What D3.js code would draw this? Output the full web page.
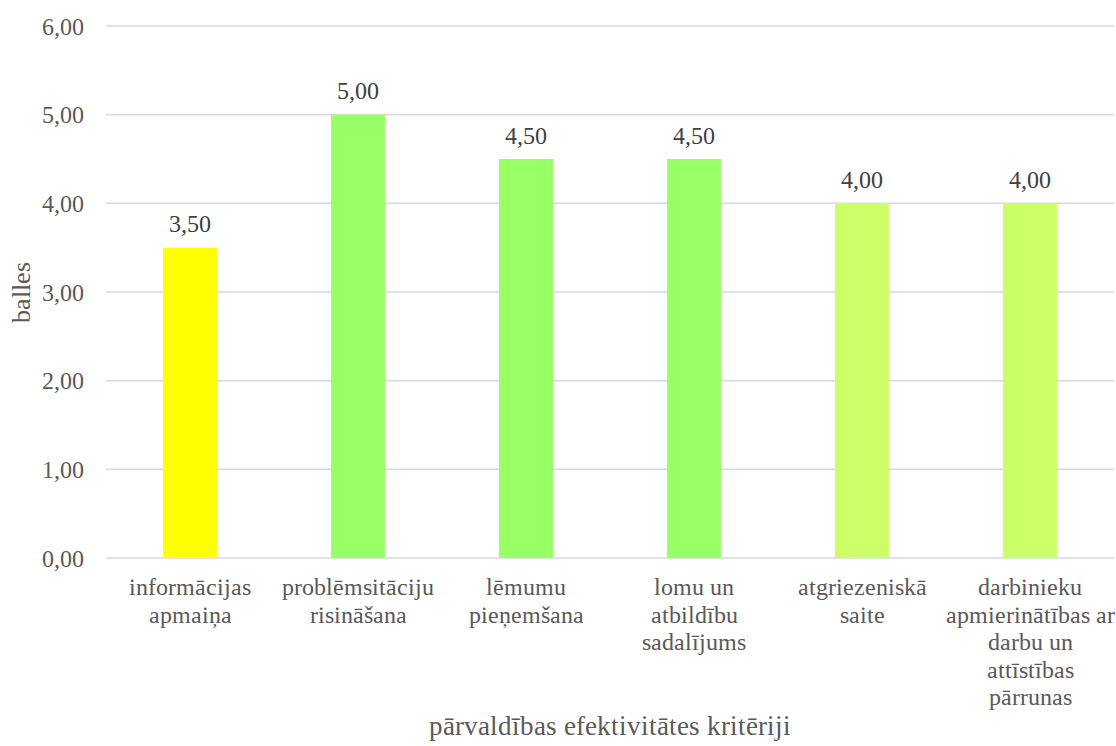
<!DOCTYPE html>
<html>
<head>
<meta charset="utf-8">
<script src="https://cdnjs.cloudflare.com/ajax/libs/d3/7.8.5/d3.min.js"></script>
<style>
  @font-face {
    font-family: "ChartSerif";
    src: local("Liberation Serif"), local("LiberationSerif"), local("LiberationSerif-Regular");
  }
  body { margin: 0; background: #fff; }
  svg text { font-family: "ChartSerif", "Liberation Serif", serif; }
</style>
</head>
<body>
<script>
// data
const categories = [
  ["informācijas", "apmaiņa"],
  ["problēmsitāciju", "risināšana"],
  ["lēmumu", "pieņemšana"],
  ["lomu un", "atbildību", "sadalījums"],
  ["atgriezeniskā", "saite"],
  ["darbinieku", "apmierinātības ar", "darbu un", "attīstības", "pārrunas"]
];
const values = [3.5, 5.0, 4.5, 4.5, 4.0, 4.0];
const barColors = ["#ffff00", "#99ff66", "#99ff66", "#99ff66", "#ccff66", "#ccff66"];
const yTicks = [0, 1, 2, 3, 4, 5, 6];
const xTitle = "pārvaldības efektivitātes kritēriji";
const yTitle = "balles";

const w = 1116, h = 746;
const padL = 106, padR = 1114, padT = 26, padB = 558;
const fontFam = "ChartSerif, 'Liberation Serif', serif";
const fmt = v => d3.format(".2f")(v).replace(".", ",");

const svg = d3.select("body").append("svg")
  .attr("width", w)
  .attr("height", h)
  .attr("font-family", fontFam);

const x = d3.scaleBand()
  .domain(d3.range(values.length))
  .range([padL, padR])
  .paddingInner(0.679)
  .paddingOuter(0.3395);

const y = d3.scaleLinear()
  .domain([0, 6])
  .range([padB, padT]);

// gridlines
svg.append("g")
  .selectAll("line")
  .data(yTicks)
  .enter()
  .append("line")
  .attr("x1", padL)
  .attr("x2", padR)
  .attr("y1", d => y(d))
  .attr("y2", d => y(d))
  .attr("stroke", "#d9d9d9")
  .attr("stroke-width", 1.5);

// y axis labels
const gy = svg.append("g")
  .attr("transform", "translate(" + padL + ",0)")
  .call(d3.axisLeft(y).tickValues(yTicks).tickFormat(fmt).tickSize(0).tickPadding(22))
  .attr("font-family", fontFam)
  .attr("font-size", 24);
gy.select(".domain").remove();
gy.selectAll("text")
  .attr("dy", 8)
  .attr("fill", "#595959")
  .style("font-family", fontFam, "important");

// bars
svg.selectAll("rect.bar")
  .data(values)
  .enter()
  .append("rect")
  .attr("class", "bar")
  .attr("x", (d, i) => x(i))
  .attr("y", d => y(d))
  .attr("width", x.bandwidth())
  .attr("height", d => y(0) - y(d))
  .attr("fill", (d, i) => barColors[i]);

// value labels
svg.selectAll("text.val")
  .data(values)
  .enter()
  .append("text")
  .attr("class", "val")
  .attr("x", (d, i) => x(i) + x.bandwidth() / 2)
  .attr("y", d => y(d) - 15.5)
  .attr("text-anchor", "middle")
  .attr("font-size", 24)
  .attr("fill", "#404040")
  .style("font-family", fontFam, "important")
  .text(fmt);

// category labels
const cat = svg.append("g")
  .selectAll("text")
  .data(categories)
  .enter()
  .append("text")
  .attr("text-anchor", "middle")
  .attr("font-size", 24)
  .attr("fill", "#595959")
  .style("font-family", fontFam, "important")
  .attr("transform", (d, i) => "translate(" + (x(i) + x.bandwidth() / 2) + "," + (padB + 37) + ")");
cat.selectAll("tspan")
  .data(d => d)
  .enter()
  .append("tspan")
  .attr("x", 0)
  .attr("y", (d, j) => j * 27.6)
  .text(d => d);

// axis titles
svg.append("text")
  .attr("x", (padL + padR) / 2)
  .attr("y", 735)
  .attr("text-anchor", "middle")
  .attr("font-size", 27)
  .attr("fill", "#595959")
  .style("font-family", fontFam, "important")
  .text(xTitle);

svg.append("text")
  .attr("transform", "translate(30," + ((padT + padB) / 2) + ") rotate(-90)")
  .attr("text-anchor", "middle")
  .attr("font-size", 26)
  .attr("fill", "#595959")
  .style("font-family", fontFam, "important")
  .text(yTitle);
</script>
</body>
</html>
